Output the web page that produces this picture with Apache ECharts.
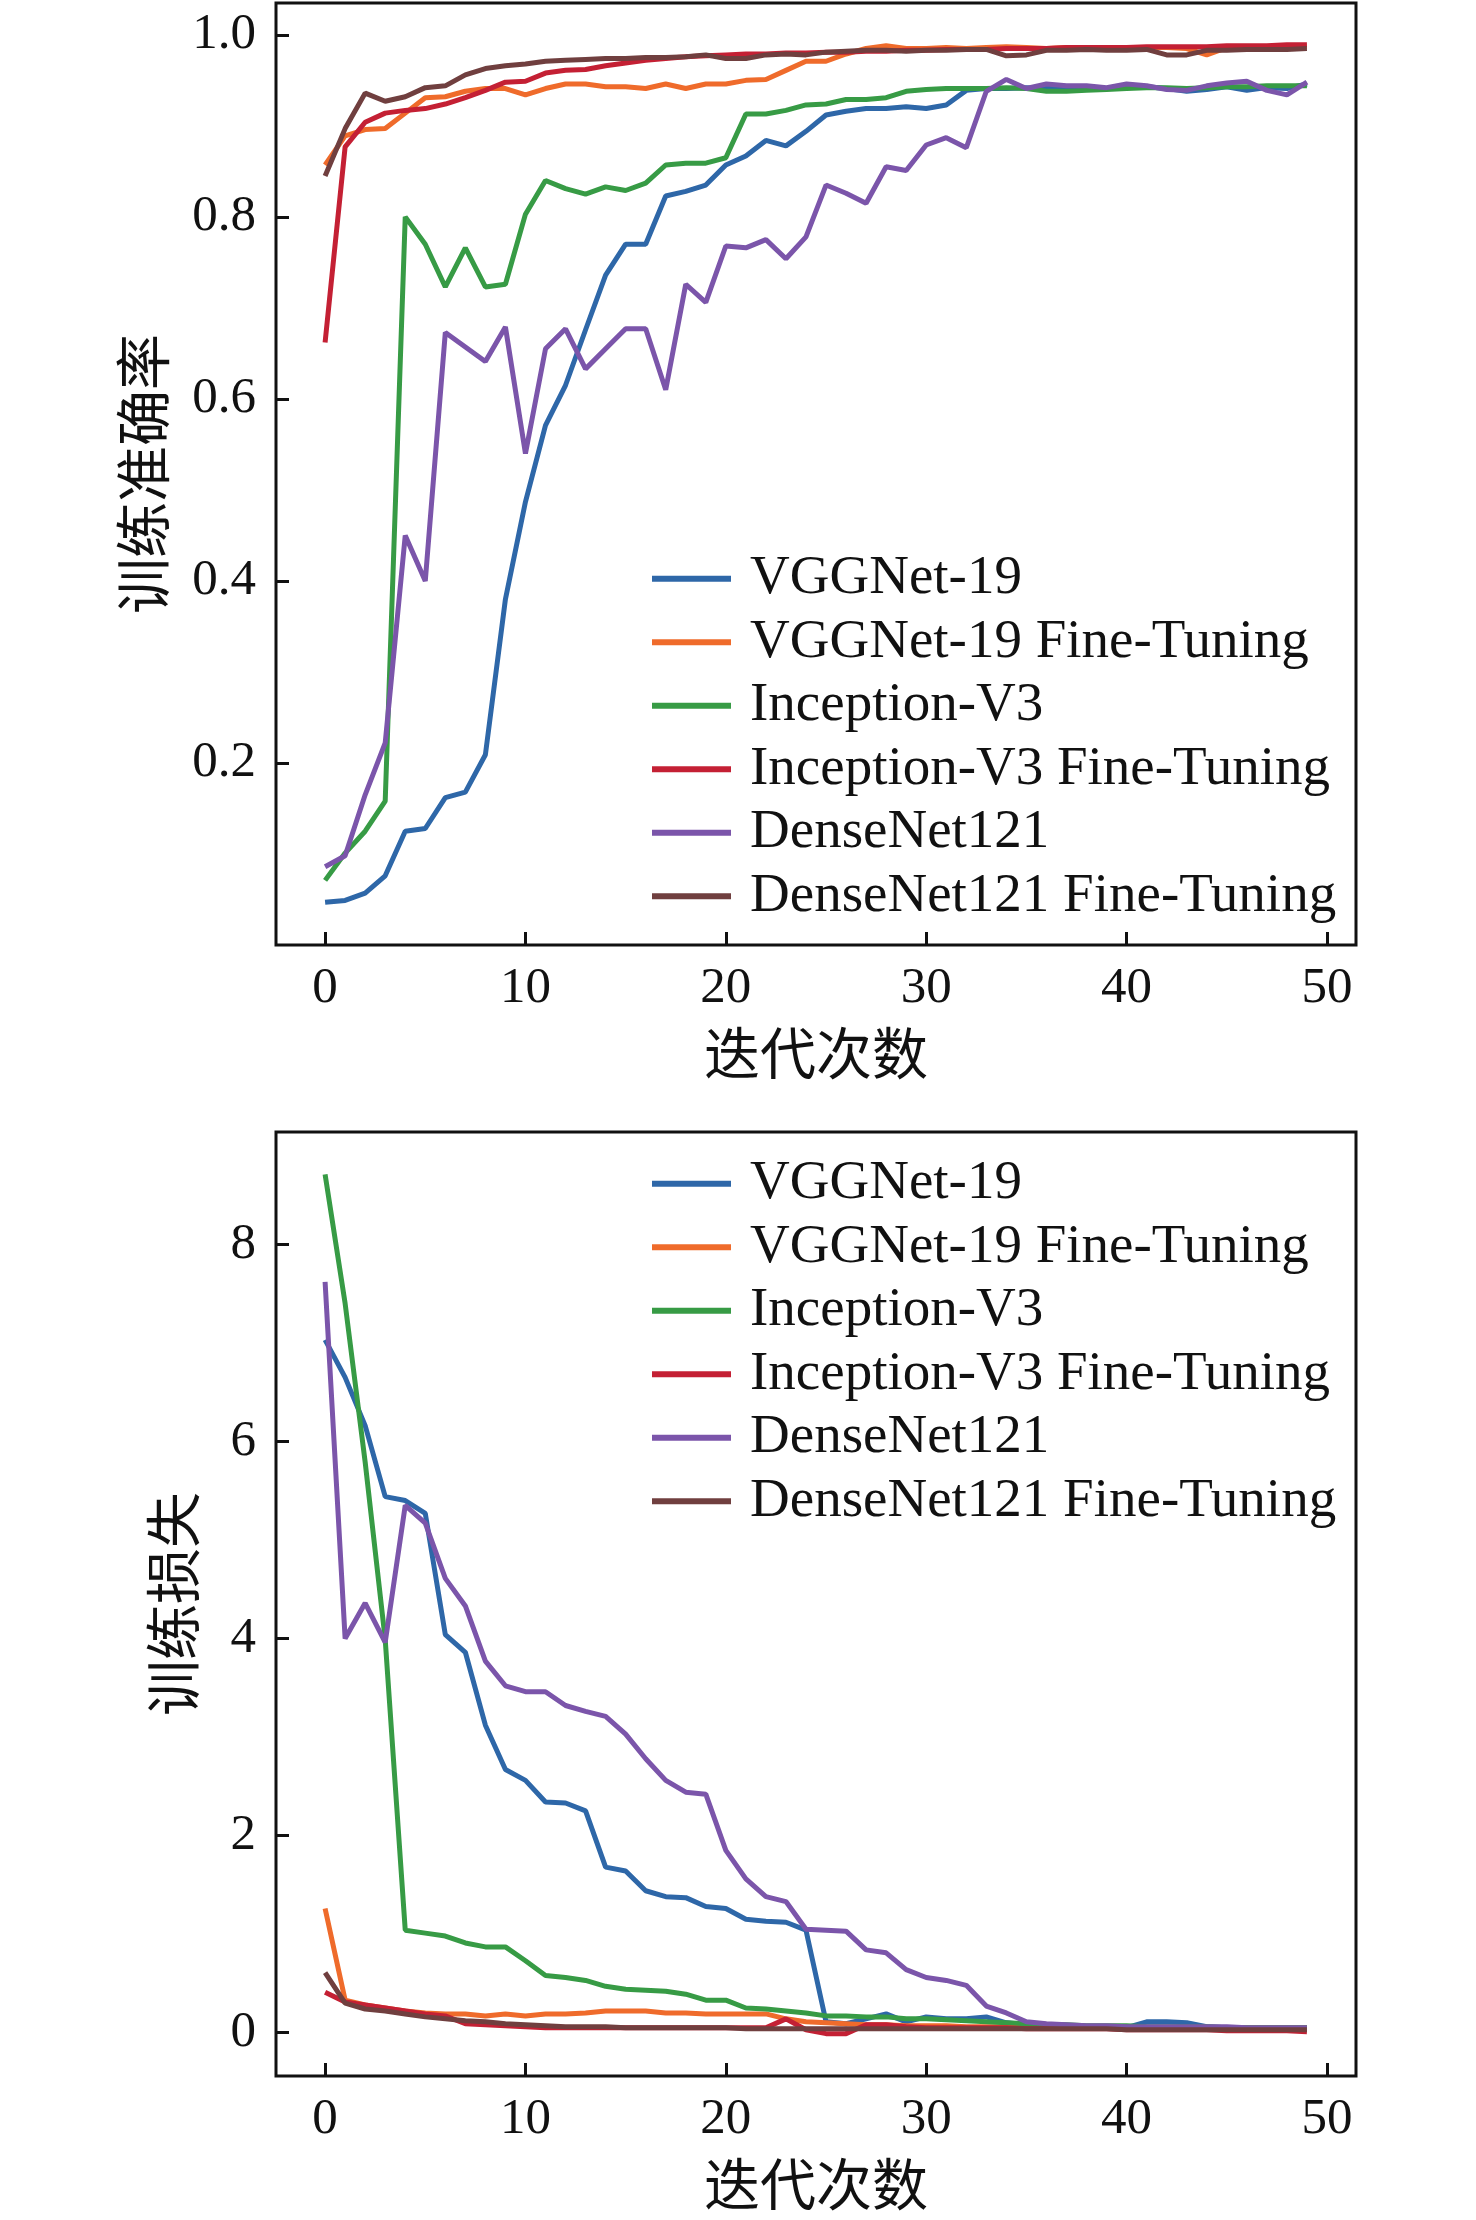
<!DOCTYPE html>
<html><head><meta charset="utf-8">
<script src="https://cdn.jsdelivr.net/npm/echarts@6/dist/echarts.min.js"></script>
<style>html,body{margin:0;padding:0;background:#fff}#c{width:1476px;height:2220px}</style>
</head><body><div id="c"></div>
<script>
const seriesNames = ['VGGNet-19','VGGNet-19 Fine-Tuning','Inception-V3','Inception-V3 Fine-Tuning','DenseNet121','DenseNet121 Fine-Tuning'];
const colors = ['#2e67a8','#ef6b2b','#379b45','#c42034','#7b55aa','#703f3f'];
const epochs = Array.from({length:50},(_,i)=>i);
const xTicks = [0,10,20,30,40,50];
const accTicks = [0.2,0.4,0.6,0.8,1.0];
const lossTicks = [0,2,4,6,8];

const accVGG = [0.047,0.049,0.057,0.076,0.125,0.128,0.162,0.168,0.209,0.38, 0.487,0.571,0.615,0.676,0.736,0.77,0.77,0.823,0.828,0.835, 0.857,0.867,0.884,0.878,0.894,0.912,0.916,0.919,0.919,0.921, 0.919,0.923,0.939,0.941,0.941,0.942,0.941,0.943,0.942,0.941, 0.942,0.943,0.941,0.938,0.94,0.943,0.939,0.942,0.941,0.946];
const accVGGFT = [0.857,0.889,0.896,0.897,0.914,0.931,0.932,0.938,0.941,0.941, 0.934,0.941,0.946,0.946,0.943,0.943,0.941,0.946,0.941,0.946, 0.946,0.95,0.951,0.961,0.971,0.971,0.979,0.985,0.988,0.985, 0.985,0.986,0.985,0.986,0.987,0.986,0.985,0.986,0.986,0.985, 0.986,0.986,0.986,0.985,0.978,0.986,0.986,0.987,0.986,0.987];
const accInc = [0.071,0.101,0.125,0.158,0.80,0.77,0.723,0.766,0.723,0.726, 0.803,0.84,0.831,0.825,0.833,0.829,0.837,0.857,0.859,0.859, 0.865,0.913,0.913,0.917,0.923,0.924,0.929,0.929,0.931,0.938, 0.94,0.941,0.941,0.941,0.942,0.941,0.938,0.938,0.939,0.94, 0.941,0.942,0.942,0.941,0.942,0.943,0.943,0.944,0.944,0.944];
const accIncFT = [0.662,0.877,0.904,0.914,0.917,0.919,0.924,0.931,0.939,0.948, 0.949,0.958,0.961,0.962,0.966,0.969,0.972,0.974,0.976,0.977, 0.978,0.979,0.979,0.98,0.98,0.981,0.981,0.982,0.982,0.983, 0.983,0.984,0.984,0.984,0.985,0.985,0.985,0.986,0.986,0.986, 0.986,0.987,0.987,0.987,0.987,0.988,0.988,0.988,0.989,0.989];
const accDense = [0.086,0.098,0.165,0.222,0.45,0.40,0.673,0.657,0.641,0.679, 0.54,0.655,0.677,0.633,0.655,0.677,0.677,0.61,0.726,0.706, 0.768,0.766,0.775,0.754,0.778,0.835,0.826,0.815,0.855,0.851, 0.879,0.887,0.876,0.938,0.951,0.941,0.946,0.944,0.944,0.942, 0.946,0.944,0.94,0.939,0.944,0.947,0.949,0.939,0.934,0.948];
const accDenseFT = [0.845,0.897,0.936,0.927,0.932,0.942,0.944,0.956,0.963,0.966, 0.968,0.971,0.972,0.973,0.974,0.974,0.975,0.975,0.976,0.978, 0.974,0.974,0.978,0.979,0.978,0.981,0.982,0.983,0.983,0.982, 0.983,0.983,0.984,0.984,0.977,0.978,0.983,0.983,0.984,0.983, 0.983,0.984,0.978,0.978,0.983,0.983,0.984,0.984,0.984,0.985];

const lossVGG = [7.03,6.65,6.16,5.44,5.40,5.27,4.04,3.86,3.12,2.67, 2.56,2.34,2.33,2.25,1.68,1.64,1.44,1.38,1.37,1.28, 1.26,1.15,1.13,1.12,1.04,0.11,0.09,0.14,0.19,0.11, 0.16,0.14,0.14,0.16,0.10,0.08,0.07,0.06,0.06,0.06, 0.05,0.11,0.11,0.1,0.06,0.05,0.05,0.05,0.05,0.05];
const lossVGGFT = [1.26,0.33,0.28,0.25,0.22,0.2,0.19,0.19,0.17,0.19, 0.17,0.19,0.19,0.2,0.22,0.22,0.22,0.2,0.2,0.19, 0.19,0.19,0.19,0.14,0.11,0.1,0.09,0.08,0.08,0.07, 0.07,0.07,0.06,0.06,0.06,0.06,0.06,0.06,0.05,0.05, 0.05,0.05,0.05,0.05,0.05,0.05,0.05,0.05,0.05,0.05];
const lossInc = [8.71,7.4,5.79,3.99,1.04,1.01,0.98,0.91,0.87,0.87, 0.73,0.58,0.56,0.53,0.47,0.44,0.43,0.42,0.39,0.33, 0.33,0.25,0.24,0.22,0.2,0.17,0.17,0.16,0.16,0.14, 0.14,0.13,0.12,0.11,0.1,0.09,0.08,0.08,0.07,0.07, 0.07,0.06,0.06,0.06,0.06,0.05,0.05,0.05,0.05,0.05];
const lossIncFT = [0.41,0.31,0.28,0.25,0.22,0.19,0.17,0.09,0.08,0.07, 0.06,0.05,0.05,0.05,0.05,0.05,0.05,0.05,0.05,0.05, 0.05,0.05,0.05,0.14,0.03,-0.01,-0.01,0.08,0.08,0.06, 0.05,0.05,0.05,0.05,0.05,0.04,0.04,0.04,0.04,0.04, 0.03,0.03,0.03,0.03,0.03,0.02,0.02,0.02,0.02,0.01];
const lossDense = [7.62,4.0,4.36,3.96,5.35,5.17,4.61,4.33,3.77,3.52, 3.46,3.46,3.32,3.26,3.21,3.03,2.78,2.56,2.44,2.42, 1.85,1.56,1.38,1.33,1.05,1.04,1.03,0.84,0.81,0.64, 0.56,0.53,0.48,0.27,0.2,0.11,0.09,0.08,0.07,0.07, 0.06,0.06,0.06,0.06,0.06,0.06,0.05,0.05,0.05,0.05];
const lossDenseFT = [0.61,0.3,0.24,0.22,0.19,0.16,0.14,0.12,0.11,0.09, 0.08,0.07,0.06,0.06,0.06,0.05,0.05,0.05,0.05,0.05, 0.05,0.04,0.04,0.04,0.04,0.04,0.04,0.04,0.04,0.04, 0.04,0.04,0.04,0.04,0.04,0.04,0.04,0.04,0.04,0.04, 0.03,0.03,0.03,0.03,0.03,0.03,0.03,0.03,0.03,0.03];

const accData = [accVGG,accVGGFT,accInc,accIncFT,accDense,accDenseFT];
const lossData = [lossVGG,lossVGGFT,lossInc,lossIncFT,lossDense,lossDenseFT];

const FONT = "'Liberation Serif','Times New Roman',serif";
const CJK = "'Noto Sans CJK SC','Liberation Serif',sans-serif";

function xAxis(gi){
  return {gridIndex:gi,type:'value',min:-2.45,max:51.45,
    name:'迭代次数',nameLocation:'middle',nameGap:80,
    nameTextStyle:{fontFamily:CJK,fontSize:56,color:'#111',verticalAlign:'top'},
    axisLine:{show:false,onZero:false},splitLine:{show:false},
    axisTick:{inside:true,length:13,lineStyle:{color:'#111',width:3},customValues:xTicks},
    axisLabel:{customValues:xTicks,fontFamily:FONT,fontSize:51,color:'#111',margin:18}};
}
function yAxis(gi,min,max,ticks,name,gap,fmt){
  return {gridIndex:gi,type:'value',min:min,max:max,
    name:name,nameLocation:'middle',nameGap:gap,nameRotate:90,
    nameTextStyle:{fontFamily:CJK,fontSize:56,color:'#111'},
    axisLine:{show:false,onZero:false},splitLine:{show:false},
    axisTick:{inside:true,length:13,lineStyle:{color:'#111',width:3},customValues:ticks},
    axisLabel:{customValues:ticks,fontFamily:FONT,fontSize:51,color:'#111',margin:20,formatter:fmt}};
}
function legend(top){
  return {orient:'vertical',left:647,top:top,itemWidth:79,itemHeight:6,itemGap:0,icon:'rect',
    data:seriesNames,
    textStyle:{fontFamily:FONT,fontSize:55,color:'#111',lineHeight:63.5,padding:[0,0,0,14]}};
}
const series = [];
accData.forEach((arr,k)=>series.push({name:seriesNames[k],type:'line',xAxisIndex:0,yAxisIndex:0,
  data:epochs.map(i=>[i,arr[i]]),showSymbol:false,lineStyle:{width:5,color:colors[k]},itemStyle:{color:colors[k]}}));
lossData.forEach((arr,k)=>series.push({name:seriesNames[k],type:'line',xAxisIndex:1,yAxisIndex:1,
  data:epochs.map(i=>[i,arr[i]]),showSymbol:false,lineStyle:{width:5,color:colors[k]},itemStyle:{color:colors[k]}}));

const chart = echarts.init(document.getElementById('c'),null,{renderer:'canvas'});
chart.setOption({
  animation:false,
  backgroundColor:'#fff',
  color:colors,
  grid:[
    {left:276,right:120,top:3,height:942,show:true,borderColor:'#111',borderWidth:3,backgroundColor:'transparent'},
    {left:276,right:120,top:1132,height:944,show:true,borderColor:'#111',borderWidth:3,backgroundColor:'transparent'}
  ],
  xAxis:[xAxis(0),xAxis(1)],
  yAxis:[
    yAxis(0,0,1.035,accTicks,'训练准确率',105,v=>v.toFixed(1)),
    yAxis(1,-0.44,9.14,lossTicks,'训练损失',75,v=>String(Math.round(v)))
  ],
  legend:[legend(542),legend(1147)],
  series:series
});
</script></body></html>
